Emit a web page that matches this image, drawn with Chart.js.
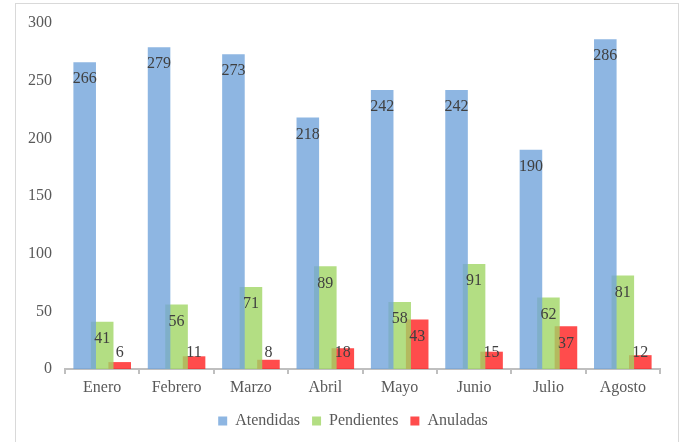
<!DOCTYPE html>
<html>
<head>
<meta charset="utf-8">
<script src="https://cdn.jsdelivr.net/npm/chart.js@4"></script>
<style>
  body { margin: 0; background: #fff; }
  #wrap { position: relative; width: 685px; height: 442px; overflow: hidden; }
  #frame { position: absolute; left: 15px; top: 3px; width: 662px; height: 460px; border: 1px solid #d9d9d9; }
  #chart { position: absolute; left: 0; top: 0; }
</style>
</head>
<body>
<div id="wrap">
  <div id="frame"></div>
  <canvas id="chart" width="685" height="442"></canvas>
</div>
<script>
// months and counts per status
const meses = ['Enero', 'Febrero', 'Marzo', 'Abril', 'Mayo', 'Junio', 'Julio', 'Agosto']
const atendidas = [266, 279, 273, 218, 242, 242, 190, 286]
const pendientes = [41, 56, 71, 89, 58, 91, 62, 81]
const anuladas = [6, 11, 8, 18, 43, 15, 37, 12]
const yTicks = [0, 50, 100, 150, 200, 250, 300]

const serif = "'Liberation Serif', serif"
Chart.defaults.font.family = serif
Chart.defaults.font.size = 16

// draws the numbers near the top of every bar
const barLabels = {
    id: 'barLabels',
    afterDatasetsDraw(chart) {
        const ctx = chart.ctx
        ctx.save()
        ctx.font = '16px ' + serif
        ctx.fillStyle = '#404040'
        ctx.textAlign = 'center'
        ctx.textBaseline = 'middle'
        chart.data.datasets.forEach((ds, i) => {
            chart.getDatasetMeta(i).data.forEach((bar, j) => {
                const y = Math.min(bar.y + 17, bar.base - 16)
                ctx.fillText(ds.data[j], bar.x, y)
            })
        })
        ctx.restore()
    }
}

// legend sits a bit right of the canvas center in the original
const shiftLegend = {
    id: 'shiftLegend',
    afterLayout(chart) {
        chart.legend.left += 23
        chart.legend.right += 23
    }
}

new Chart(document.querySelector('#chart').getContext('2d'), {
    type: 'bar',
    data: {
        labels: meses,
        datasets: [
            { label: 'Atendidas', data: atendidas, backgroundColor: 'rgba(114, 164, 219, 0.8)' },
            { label: 'Pendientes', data: pendientes, backgroundColor: 'rgba(160, 214, 100, 0.8)' },
            { label: 'Anuladas', data: anuladas, backgroundColor: 'rgba(255, 31, 31, 0.8)' }
        ]
    },
    options: {
        responsive: false,
        animation: false,
        categoryPercentage: 0.706,
        barPercentage: 1.29,
        layout: { padding: { top: 23, right: 25, bottom: 3, left: 0 } },
        plugins: {
            tooltip: { enabled: false },
            legend: {
                position: 'bottom',
                labels: {
                    boxWidth: 9,
                    boxHeight: 9,
                    padding: 12,
                    color: '#595959',
                    font: { family: serif, size: 16 }
                }
            }
        },
        scales: {
            x: {
                afterFit: scale => { scale.height = 32 },
                grid: { drawOnChartArea: false, drawTicks: true, tickLength: 5, color: '#bfbfbf', lineWidth: 2 },
                border: { display: true, color: '#bfbfbf', width: 2 },
                ticks: { color: '#595959', padding: 4, font: { family: serif, size: 16 } }
            },
            y: {
                min: 0,
                max: 300,
                afterFit: scale => { scale.width = 65 },
                afterBuildTicks: scale => { scale.ticks = yTicks.map(v => ({ value: v })) },
                grid: { display: false },
                border: { display: false },
                ticks: { color: '#595959', padding: 5, font: { family: serif, size: 16 } }
            }
        }
    },
    plugins: [barLabels, shiftLegend]
})
</script>
</body>
</html>
